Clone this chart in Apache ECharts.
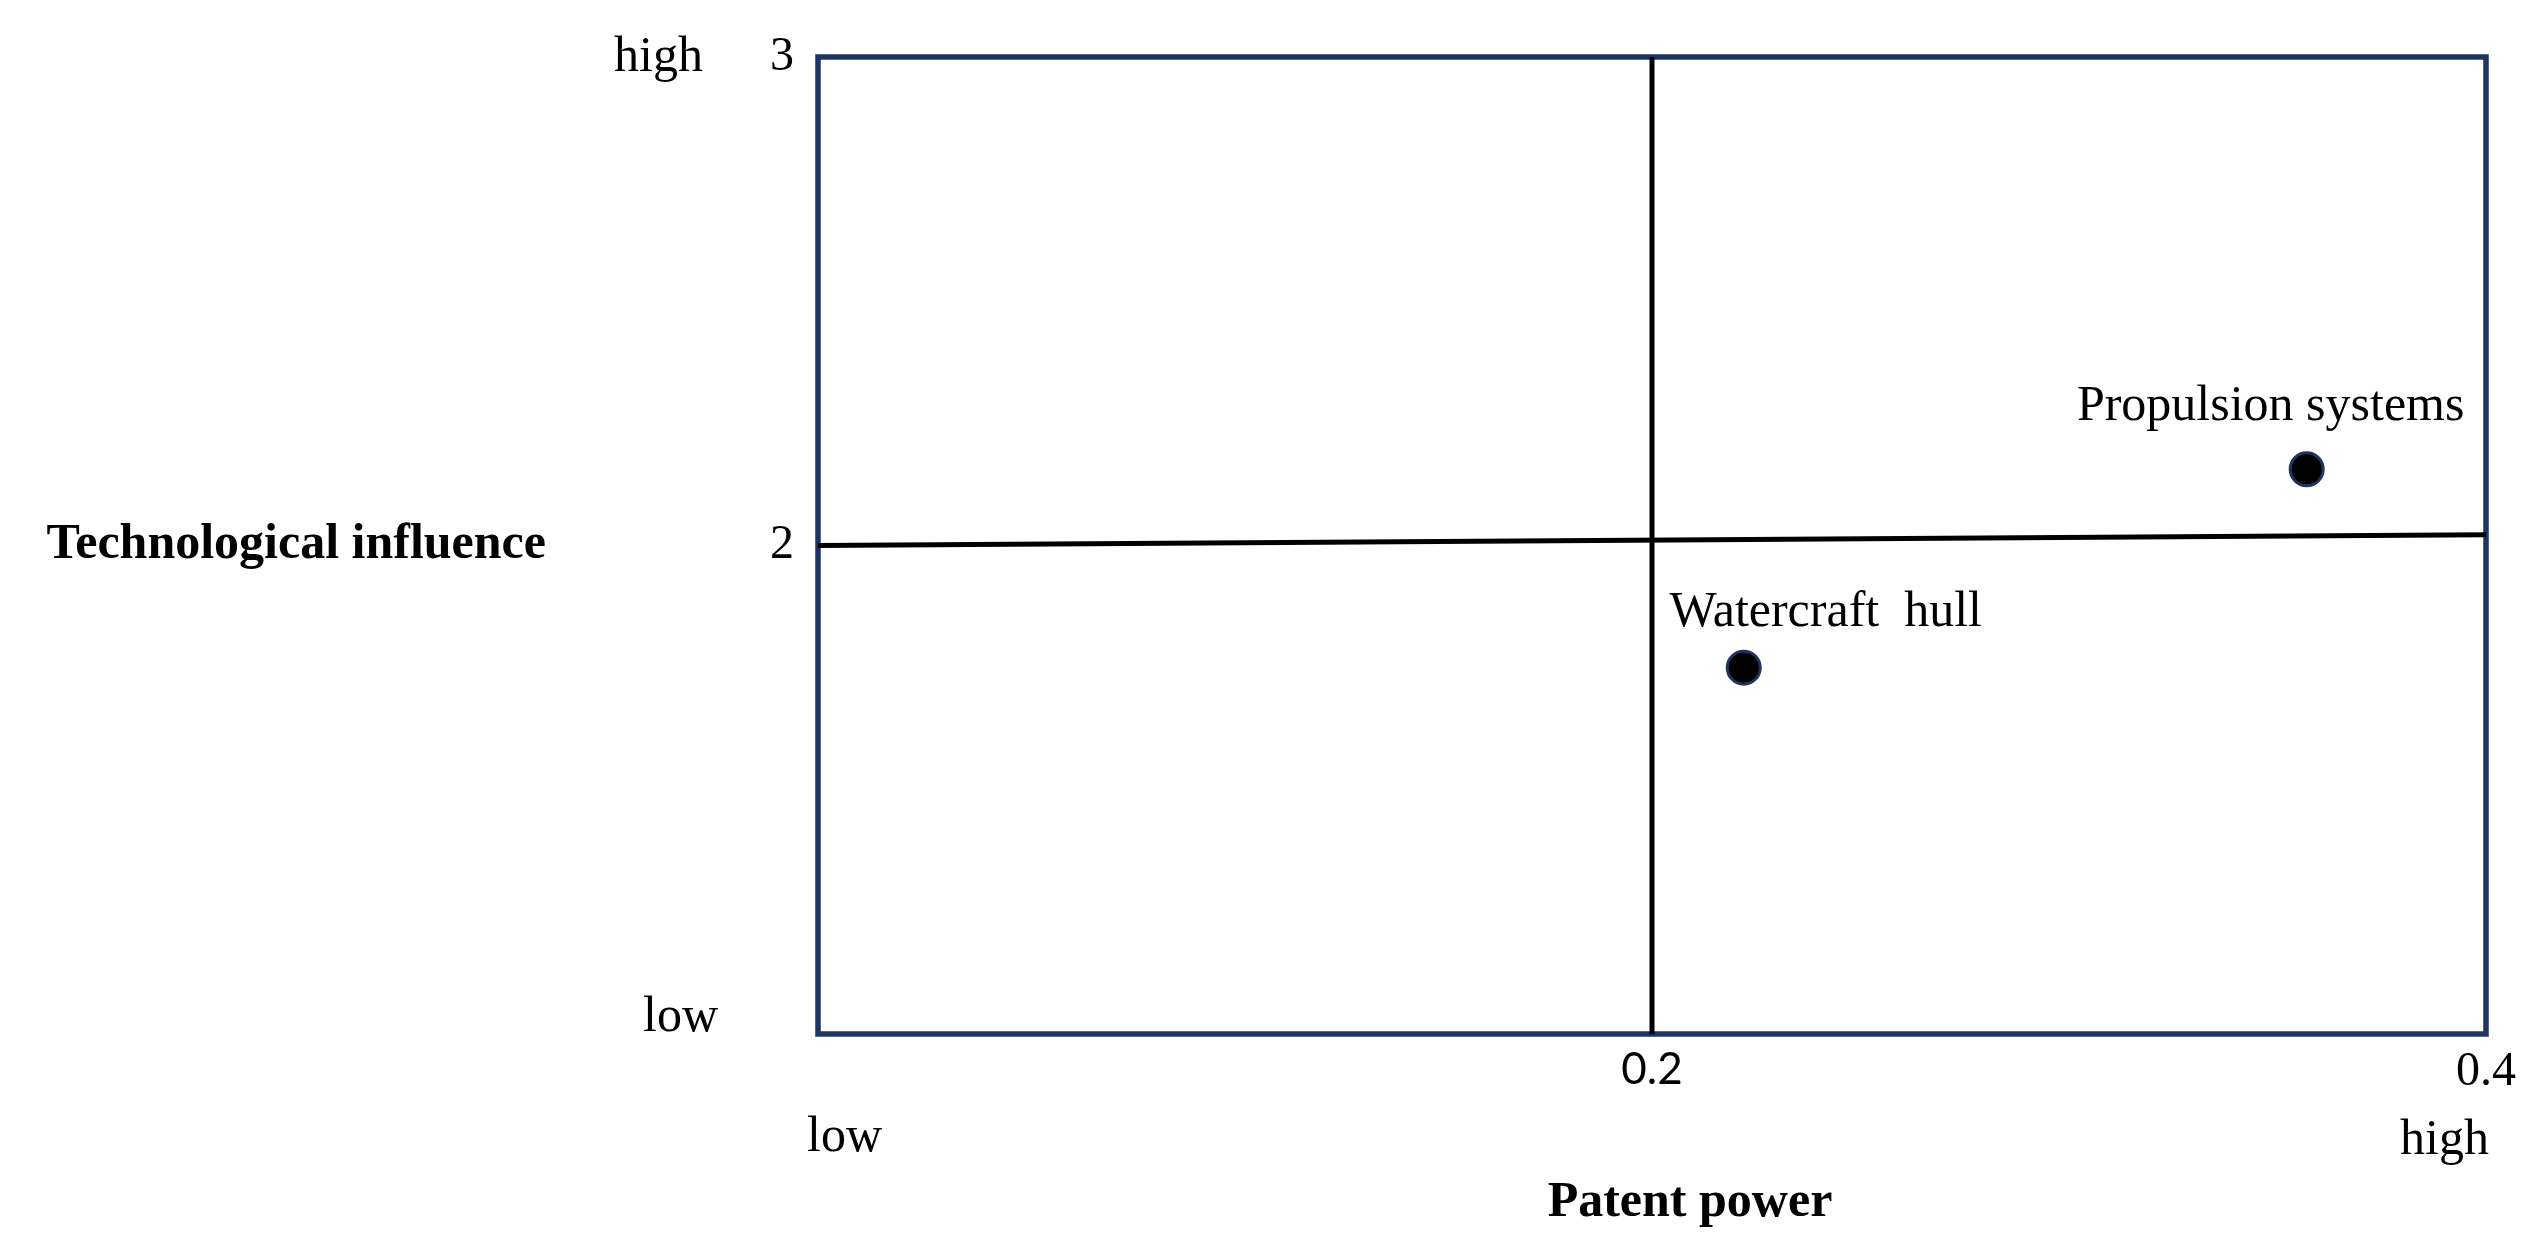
<!DOCTYPE html>
<html>
<head>
<meta charset="utf-8">
<script src="https://cdn.jsdelivr.net/npm/echarts@6/dist/echarts.min.js"></script>
<style>
  html, body { margin: 0; padding: 0; background: #fff; }
  #main { width: 2546px; height: 1259px; }
</style>
</head>
<body>
<div id="main"></div>
<script>
(function () {
  var myChart = echarts.init(document.getElementById('main'));

  // technology fields: [patent power, technological influence]
  var fieldNames = ['Watercraft  hull', 'Propulsion systems'];
  var patentPower = [0.222, 0.357];
  var techInfluence = [1.75, 2.156];

  // quadrant divider lines
  var vLine = [[0.2, 1], [0.2, 3]];
  var hLine = [[0, 2], [0.4, 2.022]];

  var xTicks = { min: 0, max: 0.4, interval: 0.2 };
  var yTicks = { min: 1, max: 3, interval: 1 };

  var serif = '"Liberation Serif", "Times New Roman", serif';
  var navy = '#1f3460';

  // label offsets per point (so the names sit like the original)
  var labelOffsets = [[82, 0], [-36, 0]];
  var labelDist = [12, 19];

  var points = fieldNames.map(function (name, i) {
    return {
      name: name,
      value: [patentPower[i], techInfluence[i]],
      label: { offset: labelOffsets[i], distance: labelDist[i] }
    };
  });

  var option = {
    animation: false,
    backgroundColor: '#fff',
    grid: {
      left: 818, top: 57, right: 60, bottom: 225,
      show: true,
      borderColor: navy,
      borderWidth: 5.5,
      backgroundColor: 'transparent'
    },
    xAxis: {
      type: 'value',
      min: xTicks.min, max: xTicks.max, interval: xTicks.interval,
      splitLine: { show: false },
      axisLine: { show: false },
      axisTick: { show: false },
      axisLabel: {
        margin: 14,
        fontFamily: serif,
        fontSize: 48,
        color: '#000',
        formatter: function (v) {
          if (v === 0) return '';
          if (Math.abs(v - 0.2) < 1e-9) return '{s|0.2}';
          return String(v);
        },
        rich: {
          s: { fontFamily: 'Lato, "Open Sans", sans-serif', fontSize: 44, color: '#000' }
        }
      },
      name: 'Patent power',
      nameLocation: 'middle',
      nameGap: 144,
      nameTextStyle: {
        fontFamily: serif, fontSize: 50, fontWeight: 'bold', color: '#000',
        padding: [0, 0, 0, 76]
      }
    },
    yAxis: {
      type: 'value',
      min: yTicks.min, max: yTicks.max, interval: yTicks.interval,
      splitLine: { show: false },
      axisLine: { show: false },
      axisTick: { show: false },
      axisLabel: {
        margin: 24,
        fontFamily: serif,
        fontSize: 48,
        color: '#000',
        formatter: function (v) { return v === 1 ? '' : String(v); }
      },
      name: 'Technological influence',
      nameLocation: 'middle',
      nameRotate: 0,
      nameGap: 272,
      nameTextStyle: {
        fontFamily: serif, fontSize: 50, fontWeight: 'bold', color: '#000',
        padding: [62, 0, 0, 0]
      }
    },
    graphic: [
      { type: 'text', left: 614, top: 33, style: { text: 'high', font: '50px ' + serif, fill: '#000' } },
      { type: 'text', left: 643, top: 993, style: { text: 'low', font: '50px ' + serif, fill: '#000' } },
      { type: 'text', left: 807, top: 1113, style: { text: 'low', font: '50px ' + serif, fill: '#000' } },
      { type: 'text', left: 2400, top: 1116, style: { text: 'high', font: '50px ' + serif, fill: '#000' } }
    ],
    series: [
      {
        type: 'line',
        data: vLine,
        symbol: 'none',
        silent: true,
        lineStyle: { color: '#000', width: 5 }
      },
      {
        type: 'line',
        data: hLine,
        symbol: 'none',
        silent: true,
        lineStyle: { color: '#000', width: 5 }
      },
      {
        type: 'scatter',
        data: points,
        symbol: 'circle',
        symbolSize: 33,
        itemStyle: { color: '#000', borderColor: navy, borderWidth: 3, opacity: 1 },
        label: {
          show: true,
          position: 'top',
          formatter: '{b}',
          fontFamily: serif,
          fontSize: 50,
          color: '#000',
          opacity: 1
        },
        z: 5
      }
    ]
  };

  myChart.setOption(option);
})();
</script>
</body>
</html>
